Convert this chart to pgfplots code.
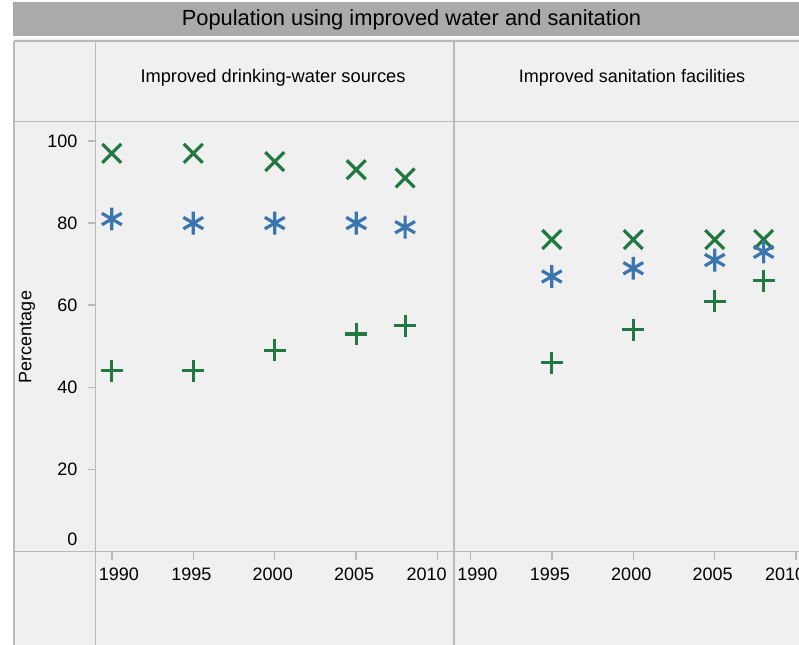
\documentclass[border=0pt]{standalone}
\usepackage{pgfplots}
\pgfplotsset{compat=1.18}
\usepackage{fontspec}
\setmainfont{Liberation Sans}
\definecolor{mkGreen}{RGB}{33,120,64}
\definecolor{mkBlue}{RGB}{58,117,176}
\definecolor{cellBg}{RGB}{240,240,240}
\definecolor{titleBg}{RGB}{170,170,170}
\definecolor{ruleGray}{RGB}{185,185,185}

% one facet panel: 1 px of the reference = 0.75pt
\pgfplotsset{
  panel/.style={
    scale only axis,
    width=268.875pt, height=322.5pt,
    anchor=south west,
    xmin=1989, xmax=2011,
    ymin=0, ymax=104.75,
    xtick={1990,1995,2000,2005,2010},
    % end labels are pushed inward, as in the reference
    xticklabels={\hspace*{10.5pt}1990, 1995\hspace*{3pt}, 2000\hspace*{3pt},
                 2005\hspace*{3pt}, 2010\hspace*{16.5pt}},
    axis line style={draw=none},
    tick align=outside, tick pos=left,
    major tick length=6pt,
    every tick/.style={ruleGray, line width=1.1pt},
    ticklabel style={font=\fontsize{13.5}{16}\selectfont, text=black},
    yticklabel style={xshift=-4pt},
    xticklabel style={yshift=-2.5pt},
    /pgf/number format/1000 sep={},
    /pgf/number format/assume math mode=true,
    clip=false,
  },
  xmark/.style={only marks, mark=x, mark size=10pt, color=mkGreen,
    mark options={solid, line width=2.4pt}},
  amark/.style={only marks, mark=asterisk, mark size=8.6pt, color=mkBlue,
    mark options={solid, line width=2.4pt}},
  pmark/.style={only marks, mark=+, mark size=8.25pt, color=mkGreen,
    mark options={solid, line width=2.4pt}},
}

\begin{document}
\begin{tikzpicture}
  \useasboundingbox (0,0) rectangle (599.25pt,-483pt);
  \clip (0,0) rectangle (599.25pt,-483pt);

  % frame of the facet table, in reference pixels
  \begin{scope}[x=0.75pt, y=-0.75pt]
    \fill[white] (0,0) rectangle (799,644);
    \fill[titleBg] (13,2) rectangle (799,36);
    \fill[cellBg] (14,38) rectangle (820,650);
    \draw[ruleGray, line width=1.4pt]
      (14,41) -- (820,41)
      (14,121.5) -- (820,121.5)
      (14,551.5) -- (820,551.5)
      (14,41) -- (14,650)
      (95.5,41) -- (95.5,650)
      (454,41) -- (454,650);
    \node[font=\fontsize{16.4}{19}\selectfont] at (411.5,20) {Population using improved water and sanitation};
    \node[font=\fontsize{13.7}{16}\selectfont] at (273,78) {Improved drinking-water sources};
    \node[font=\fontsize{13.5}{16}\selectfont] at (632,78) {Improved sanitation facilities};
    \node[font=\fontsize{13.5}{16}\selectfont, rotate=90] at (27,337) {Percentage};
  \end{scope}

  % drinking water
  \begin{axis}[panel,
      at={(71.625pt,-413.625pt)},
      ytick={20,40,60,80,100},
      extra y ticks={0},
      extra y tick style={yticklabel style={yshift=9.4pt}},
    ]
    \addplot[xmark] coordinates {
      (1990,97) (1995,97) (2000,95) (2005,93) (2008,91)
    };
    \addplot[amark] coordinates {
      (1990,81) (1995,80) (2000,80) (2005,80) (2008,79)
    };
    \addplot[pmark] coordinates {
      (1990,44) (1995,44) (2000,49) (2005,53) (2008,55)
    };
  \end{axis}

  % sanitation
  \begin{axis}[panel,
      at={(340.5pt,-413.625pt)},
      ytick=\empty,
    ]
    \addplot[xmark] coordinates {
      (1995,76) (2000,76) (2005,76) (2008,76)
    };
    \addplot[amark] coordinates {
      (1995,67) (2000,69) (2005,71) (2008,73)
    };
    \addplot[pmark] coordinates {
      (1995,46) (2000,54) (2005,61) (2008,66)
    };
  \end{axis}
\end{tikzpicture}
\end{document}
